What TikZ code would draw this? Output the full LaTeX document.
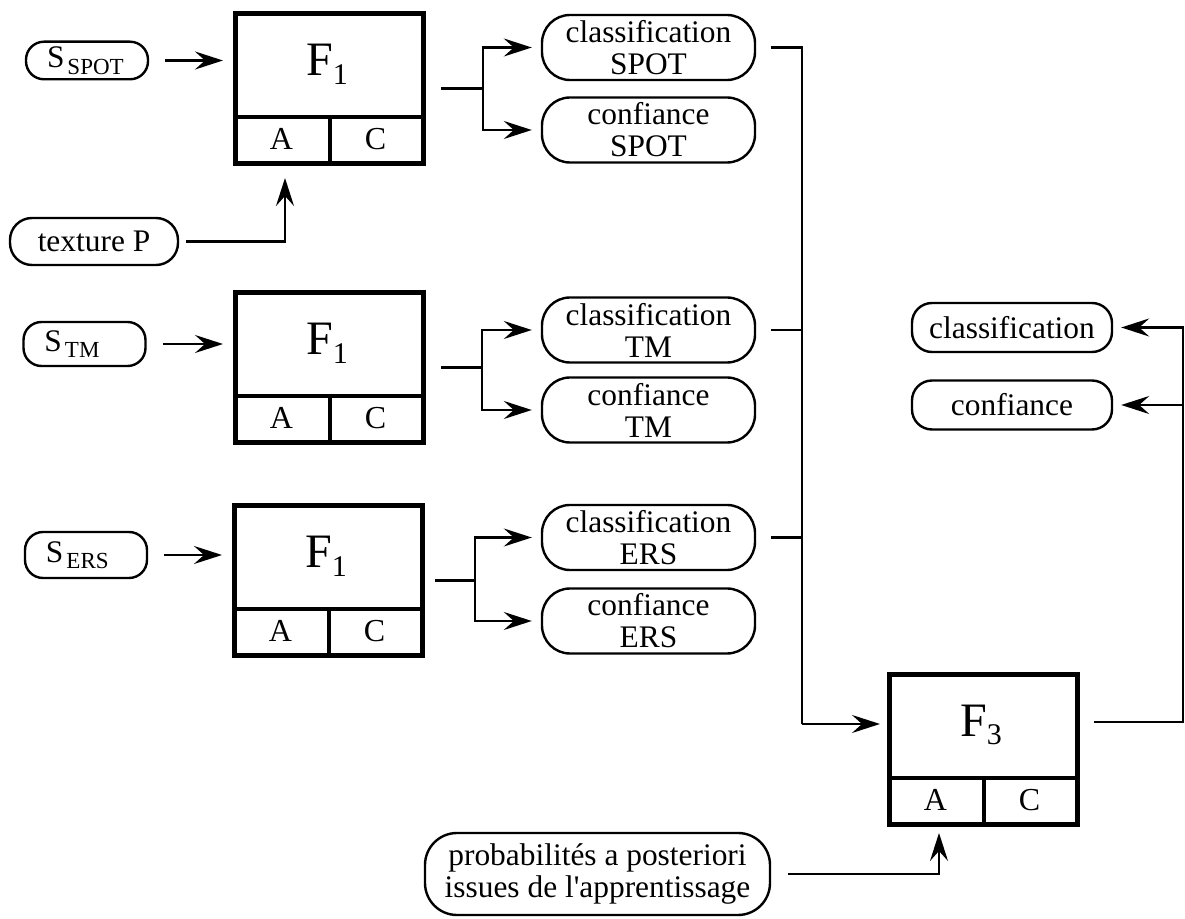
\documentclass[tikz,border=0pt]{standalone}
\usepackage{fontspec}
\setmainfont{Liberation Serif}
\usetikzlibrary{arrows.meta,calc}
\newcommand{\lowsub}[1]{\raisebox{-0.45ex}{\fontsize{11.5}{11.5}\selectfont #1}}
\newcommand{\fbx}[4]{%
  \node[fbody, anchor=north west] (#1) at (#2,#3) {};
  \draw[boxline] ({#2},{#3+106}) -- ({#2+188},{#3+106});
  \draw[boxline] ({#2+97},{#3+106}) -- ({#2+97},{#3+150});
  \node[ftext] (#1-t) at ({#2+94},{#3+53}) {F\raisebox{-0.4ex}{\fontsize{15}{15}\selectfont #4}};
  \node[cell] (#1-a) at ({#2+48.5},{#3+128}) {A};
  \node[cell] (#1-c) at ({#2+142.5},{#3+128}) {C};
  \coordinate (#1-in) at ({#2+52},{#3+150});
}
\tikzset{
  pill/.style={draw, line width=1.2pt, rounded corners=9pt, inner sep=0pt, align=center,
    font=\fontsize{15.7}{16}\selectfont},
  snode/.style={pill, inner xsep=10.5pt, text width=40pt, align=left},
  mid/.style={pill, minimum width=106.5pt, minimum height=32.5pt, rounded corners=14pt},
  fbody/.style={draw, line width=2.4pt, inner sep=0pt, minimum width=94pt, minimum height=75pt},
  boxline/.style={line width=2.4pt},
  ftext/.style={inner sep=0pt, font=\fontsize{24}{24}\selectfont},
  cell/.style={inner sep=0pt, font=\fontsize{16}{16}\selectfont},
  line/.style={line width=1.2pt},
  arr/.style={line width=1.2pt, -{Stealth[length=14pt,width=9pt,inset=5pt]}, shorten >=4pt},
}
\begin{document}
\begin{tikzpicture}[x=0.5pt, y=-0.5pt]
\useasboundingbox (0,0) rectangle (1185,919);

% input nodes
\node[snode, minimum height=18.8pt] (sspot) at (87,60.5) {S\kern1.5pt\lowsub{SPOT}};
\node[pill, minimum width=84pt, minimum height=23.5pt, rounded corners=11pt] (tex) at (94,241.5) {texture P};
\node[snode, minimum height=22pt] (stm) at (84.5,344) {S\kern1.5pt\lowsub{TM}};
\node[snode, minimum height=23pt] (sers) at (86,555) {S\kern1.5pt\lowsub{ERS}};

% F boxes
\fbx{b1}{233}{11}{1}
\fbx{b2}{233}{290}{1}
\fbx{b3}{232}{503}{1}
\fbx{f3}{887}{672}{3}

% middle nodes
\node[mid] (cls1) at (648.5,47.5) {classification\\SPOT};
\node[mid] (conf1) at (648.5,130) {confiance\\SPOT};
\node[mid] (cls2) at (648.5,330) {classification\\TM};
\node[mid] (conf2) at (648.5,410) {confiance\\TM};
\node[mid] (cls3) at (648.5,537.5) {classification\\ERS};
\node[mid] (conf3) at (648.5,621) {confiance\\ERS};

% right nodes
\node[pill, minimum width=100pt, minimum height=24.5pt, rounded corners=10pt] (rcls) at (1012,327.5) {classification};
\node[pill, minimum width=100pt, minimum height=24.5pt, rounded corners=10pt] (rconf) at (1012,405) {confiance};

% bottom node
\node[pill, minimum width=172.5pt, minimum height=41pt, rounded corners=16pt] (prob) at (597.5,874) {probabilités a posteriori\\issues de l\textquotesingle apprentissage};

% inputs to F1 boxes
\draw[arr, shorten <=8pt, shorten >=5pt] (sspot.east) -- (sspot.east -| b1.west);
\draw[arr, shorten <=8pt, shorten >=5pt] (stm.east) -- (stm.east -| b2.west);
\draw[arr, shorten <=8pt, shorten >=5pt] (sers.east) -- (sers.east -| b3.west);
\draw[arr, shorten <=3.5pt, shorten >=8.5pt] (tex.east) -| (b1-in);

% branches
\coordinate (j1) at ($(b1.east)+(57,0)$);
\coordinate (j2) at ($(b2.east)+(56,0)$);
\coordinate (j3) at ($(b3.east)+(50,0)$);
\draw[line, shorten <=7.5pt] (b1.east) -- (j1);
\draw[line, shorten <=7.5pt] (b2.east) -- (j2);
\draw[line, shorten <=5pt] (b3.east) -- (j3);
\draw[arr, shorten >=4.5pt] (j1) |- (cls1.west);
\draw[arr, shorten >=4.5pt] (j1) |- (conf1.west);
\draw[arr, shorten >=4.5pt] (j2) |- (cls2.west);
\draw[arr, shorten >=4.5pt] (j2) |- (conf2.west);
\draw[arr, shorten >=4.5pt] (j3) |- (cls3.west);
\draw[arr, shorten >=4.5pt] (j3) |- (conf3.west);

% bus to F3
\coordinate (bus) at (802,724);
\draw[line, shorten <=7.5pt] (cls1.east) -| (bus);
\draw[line, shorten <=7.5pt] (cls2.east) -- (cls2.east -| bus);
\draw[line, shorten <=7.5pt] (cls3.east) -- (cls3.east -| bus);
\draw[arr, shorten >=3.5pt] (bus) -- (bus -| f3.west);

% F3 outputs
\coordinate (rbus) at (1183,722);
\draw[arr, shorten <=7pt] (f3.east |- rbus) -- (rbus) |- (rcls.east);
\draw[arr] (rbus |- rconf.east) -- (rconf.east);

% bottom input
\draw[arr, shorten <=8.5pt, shorten >=5.5pt] (prob.east) -| (f3-in);
\end{tikzpicture}
\end{document}
